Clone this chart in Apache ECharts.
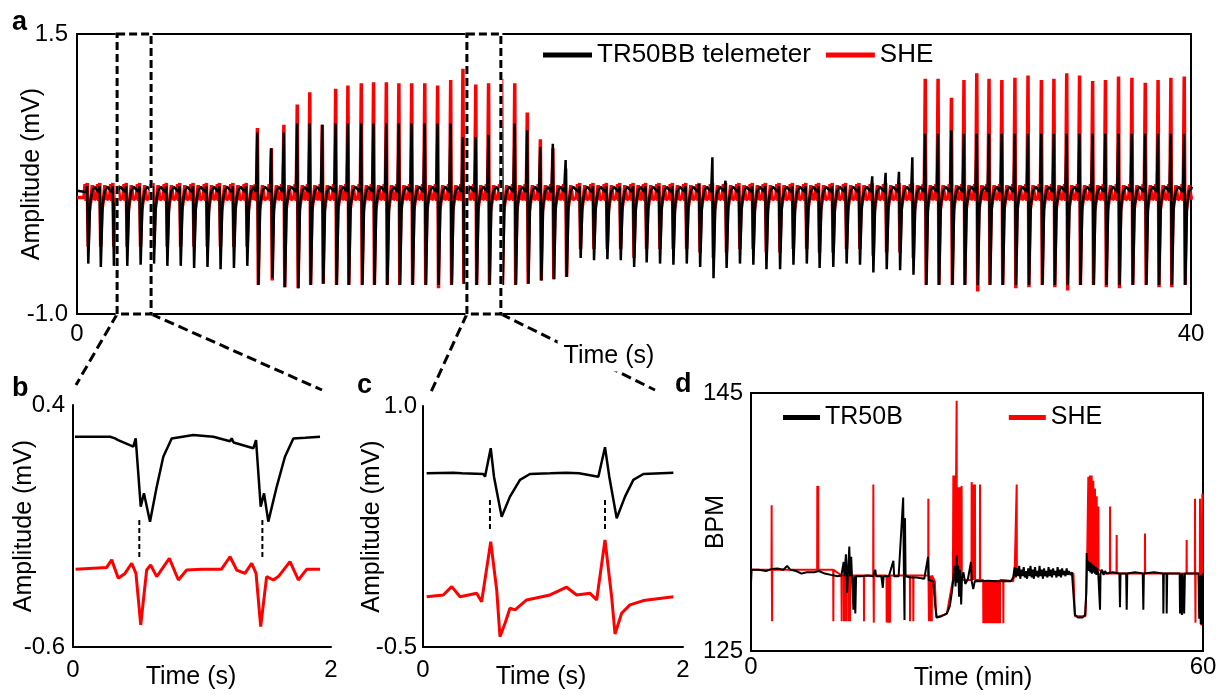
<!DOCTYPE html>
<html><head><meta charset="utf-8">
<script src="https://cdn.jsdelivr.net/npm/echarts/dist/echarts.min.js"></script>
<style>html,body{margin:0;padding:0;background:#fff}#c{width:1223px;height:695px}</style>
</head><body><div id="c"></div>
<script>
// ---------------- Panel a : beat-by-beat amplitudes ----------------
const beatTimes = [
 0.38,0.83,1.30,1.78,2.26,2.74,3.22,3.70,4.18,4.66,5.13,5.61,6.09,
 6.49,6.99,7.44,7.92,8.37,8.82,9.30,9.74,10.22,10.66,11.12,11.57,12.03,12.50,12.96,13.43,13.87,14.33,14.79,15.26,15.73,16.18,16.65,17.10,17.56,
 18.06,18.54,19.02,19.50,19.98,20.43,20.91,21.39,21.87,22.35,22.83,23.30,23.78,24.26,24.73,25.22,25.70,26.18,26.64,27.13,27.61,28.09,28.57,29.05,29.53,30.01,
 30.47,30.93,31.41,31.86,32.32,32.76,33.22,33.69,34.16,34.64,35.09,35.55,36.01,36.48,36.94,37.41,37.89,38.37,38.83,39.29,39.77];
const blackPeak = [
 0.14,0.14,0.14,0.14,0.14,0.14,0.14,0.14,0.14,0.14,0.14,0.14,0.14,
 0.62,0.48,0.62,0.70,0.70,0.69,0.70,0.70,0.70,0.70,0.70,0.70,0.70,0.70,0.70,0.70,0.58,0.58,0.60,0.67,0.70,0.64,0.49,0.52,0.375,
 0.14,0.14,0.14,0.14,0.14,0.14,0.14,0.14,0.14,0.16,0.40,0.19,0.14,0.14,0.14,0.14,0.14,0.14,0.14,0.14,0.14,0.14,0.23,0.26,0.27,0.40,
 0.61,0.61,0.64,0.61,0.61,0.61,0.61,0.61,0.61,0.61,0.61,0.61,0.61,0.61,0.61,0.61,0.61,0.61,0.61,0.61,0.61];
const blackTrough = [
 -0.55,-0.58,-0.57,-0.57,-0.56,-0.55,-0.57,-0.57,-0.59,-0.58,-0.60,-0.59,-0.57,
 -0.74,-0.68,-0.76,-0.77,-0.74,-0.73,-0.74,-0.74,-0.74,-0.74,-0.74,-0.74,-0.74,-0.74,-0.74,-0.74,-0.73,-0.74,-0.74,-0.74,-0.74,-0.73,-0.70,-0.69,-0.67,
 -0.50,-0.52,-0.51,-0.52,-0.58,-0.54,-0.55,-0.56,-0.55,-0.58,-0.68,-0.59,-0.55,-0.56,-0.60,-0.60,-0.56,-0.55,-0.59,-0.58,-0.55,-0.56,-0.63,-0.60,-0.61,-0.65,
 -0.74,-0.74,-0.74,-0.74,-0.74,-0.74,-0.74,-0.74,-0.74,-0.74,-0.74,-0.74,-0.74,-0.74,-0.74,-0.74,-0.74,-0.74,-0.74,-0.74,-0.74];
const redPeak = [
 0.17,0.17,0.17,0.17,0.17,0.17,0.17,0.17,0.17,0.17,0.17,0.17,0.17,
 0.66,0.48,0.69,0.87,0.98,0.69,1.01,1.04,1.06,1.07,1.07,1.06,1.06,1.06,1.04,1.09,1.19,1.05,1.06,1.10,1.06,0.80,0.56,0.48,0.30,
 0.17,0.17,0.17,0.17,0.17,0.17,0.17,0.17,0.17,0.17,0.17,0.17,0.17,0.17,0.17,0.17,0.17,0.17,0.17,0.17,0.17,0.17,0.17,0.17,0.17,0.17,
 1.10,1.10,0.93,1.09,1.15,1.10,1.09,1.11,1.13,1.09,1.10,1.15,1.13,1.08,1.09,1.12,1.11,1.065,1.09,1.11,1.12];
const redTrough = [
 -0.40,-0.40,-0.40,-0.40,-0.40,-0.40,-0.40,-0.40,-0.40,-0.40,-0.40,-0.40,-0.40,
 -0.74,-0.70,-0.76,-0.77,-0.74,-0.73,-0.74,-0.74,-0.74,-0.74,-0.74,-0.74,-0.74,-0.74,-0.77,-0.74,-0.73,-0.74,-0.74,-0.74,-0.74,-0.73,-0.70,-0.69,-0.67,
 -0.42,-0.42,-0.42,-0.42,-0.50,-0.42,-0.42,-0.42,-0.42,-0.45,-0.50,-0.45,-0.42,-0.42,-0.45,-0.45,-0.42,-0.42,-0.45,-0.45,-0.42,-0.42,-0.48,-0.45,-0.45,-0.50,
 -0.74,-0.74,-0.74,-0.74,-0.80,-0.74,-0.74,-0.77,-0.76,-0.74,-0.76,-0.79,-0.74,-0.74,-0.76,-0.77,-0.74,-0.74,-0.76,-0.76,-0.74];
// waveform levels between spikes (baseline, P/T bumps): [time offset (s), value or 'peak'/'trough']
const blackShape = [[-0.06,0.09],[-0.015,'peak'],[0.025,'trough'],[0.09,-0.02],[0.17,0.10],[0.26,0.135]];
const redShape = [[-0.13,0.04],[-0.09,0.16],[-0.05,0.01],[-0.012,'peak'],[0.02,'trough'],[0.06,-0.08],[0.11,0.0],[0.17,0.15],[0.24,0.02]];
const aEnds = {black:[[0,0.10],[40,0.11]], red:[[0,0.04],[40,0.05]]};
const zoomBoxes = [[1.44,2.66],[14.0,15.22]];
const aX = [0,40], aY = [-1.0,1.5];

// ---------------- Panel b / c : zoomed traces ----------------
const bBlack = [[0.015,0.269],[0.287,0.269],[0.326,0.262],[0.35,0.255],[0.468,0.228],[0.486,0.262],[0.525,-0.020],[0.550,0.035],[0.597,-0.082],[0.649,0.062],[0.700,0.186],[0.765,0.262],[0.933,0.276],[1.088,0.269],[1.217,0.250],[1.230,0.262],[1.245,0.245],[1.398,0.221],[1.419,0.255],[1.455,-0.020],[1.481,0.035],[1.514,-0.082],[1.579,0.062],[1.643,0.186],[1.708,0.262],[1.80,0.265],[1.915,0.269]];
const bRed = [[0.02,-0.279],[0.261,-0.271],[0.300,-0.240],[0.351,-0.316],[0.403,-0.296],[0.455,-0.254],[0.488,-0.296],[0.525,-0.509],[0.571,-0.282],[0.602,-0.261],[0.649,-0.309],[0.747,-0.234],[0.817,-0.323],[0.881,-0.282],[1.0,-0.279],[1.15,-0.279],[1.217,-0.227],[1.269,-0.282],[1.333,-0.296],[1.385,-0.254],[1.419,-0.296],[1.455,-0.516],[1.501,-0.309],[1.553,-0.323],[1.592,-0.309],[1.682,-0.247],[1.747,-0.323],[1.811,-0.279],[1.915,-0.279]];
const bMarks = [[0.514,-0.075,-0.240],[1.468,-0.075,-0.240]];
const cBlack = [[0.028,0.581],[0.233,0.585],[0.24,0.591],[0.3,0.581],[0.464,0.577],[0.477,0.560],[0.521,0.737],[0.546,0.560],[0.605,0.311],[0.669,0.436],[0.746,0.540],[0.823,0.577],[0.977,0.581],[1.105,0.585],[1.118,0.591],[1.2,0.581],[1.349,0.560],[1.4,0.743],[1.433,0.560],[1.490,0.301],[1.554,0.436],[1.618,0.540],[1.695,0.577],[1.926,0.585]];
const cRed = [[0.028,-0.187],[0.156,-0.176],[0.221,-0.124],[0.285,-0.187],[0.413,-0.166],[0.451,-0.218],[0.521,0.156],[0.567,-0.145],[0.592,-0.436],[0.631,-0.352],[0.669,-0.259],[0.708,-0.269],[0.797,-0.207],[0.977,-0.176],[1.105,-0.128],[1.182,-0.176],[1.285,-0.166],[1.336,-0.207],[1.4,0.166],[1.451,-0.187],[1.477,-0.419],[1.528,-0.290],[1.592,-0.238],[1.695,-0.211],[1.926,-0.187]];
const cMarks = [[0.515,0.415,0.218],[1.40,0.415,0.218]];

// ---------------- Panel d : BPM over an hour ----------------
const dBlack = [[0,130.3],[0.08,131.3],[1.0,131.3],[2.0,131.2],[2.7,131.35],[3.5,131.4],[4.3,131.3],[4.8,131.6],[5.2,131.3],[6.0,131.2],[6.7,131.0],[7.4,131.1],[8.4,131.1],[9.0,131.2],[9.8,131.0],[10.6,130.9],[11.5,130.8],[12.0,130.85],
 [12.3,131.9],[12.4,130.8],[12.6,132.5],[12.7,130.8],[12.75,129.5],[12.85,130.8],[13.05,133.1],[13.15,130.8],[13.3,132.3],[13.4,130.8],[13.6,128.2],[13.7,130.8],[13.85,127.9],[13.95,130.8],[14.6,130.8],[15.5,130.85],[16.2,130.8],[16.5,131.3],[16.6,130.8],[17.3,130.8],[17.5,129.9],[17.6,130.8],[18.3,130.8],[18.9,132.0],[19.0,130.8],[19.6,130.8],[20.2,136.9],[20.3,130.8],[20.38,127.4],[20.44,135.3],[20.52,130.8],[21.2,130.7],[22.0,130.7],[23.0,130.6],[23.5,132.3],[23.6,130.5],[24.2,130.4],[24.45,128.5],[24.65,127.6],[25.3,127.7],[26.0,127.9],[26.4,128.5],[26.7,129.7],[26.86,130.6],[27.0,131.6],[27.15,130.0],[27.3,132.4],[27.4,130.3],[27.5,131.6],[27.62,129.2],[27.75,131.3],[27.9,128.6],[28.0,130.6],[28.2,131.1],[28.45,130.2],[28.8,130.6],[29.2,131.9],[29.3,130.4],[29.5,129.8],[29.7,130.4],[30.5,130.4],[31.5,130.45],[32.5,130.4],[33.5,130.4],[34.5,130.4],[34.8,130.7],
 [35.0,131.5],[35.15,130.7],[35.3,131.4],[35.45,130.8],[35.6,131.6],[35.75,130.6],[35.9,131.3],[36.05,130.8],[36.2,131.5],[36.35,130.7],[36.5,131.2],[36.65,130.6],[36.8,131.4],[36.95,130.8],[37.1,131.6],[37.25,130.7],[37.4,131.3],[37.55,130.6],[37.7,131.5],[37.85,130.8],[38.0,131.2],[38.15,130.7],[38.3,131.6],[38.45,130.8],[38.6,131.3],[38.75,130.6],[38.9,131.4],[39.05,130.8],[39.2,131.2],[39.35,130.7],[39.5,131.5],[39.65,130.8],[39.8,131.3],[39.95,130.7],[40.1,131.4],[40.25,130.9],[40.4,131.2],[40.55,130.7],[40.7,131.5],[40.85,130.8],[41.0,131.3],[41.15,130.7],[41.3,131.4],[41.45,130.9],[41.6,131.2],[41.75,130.8],[41.9,131.4],[42.05,130.9],[42.2,131.2],[42.4,130.9],[42.6,131.1],[42.8,131.0],
 [43.0,127.8],[43.4,127.6],[44.0,127.6],[44.35,127.8],[44.5,129.5],[44.56,132.6],[44.65,131.3],[44.75,132.0],[44.85,131.2],[44.95,131.9],[45.05,131.1],[45.15,131.8],[45.25,131.0],[45.35,131.7],[45.45,131.1],[45.55,131.6],[45.65,131.0],[45.75,131.5],[45.85,130.9],[45.95,131.4],[46.1,131.0],[46.33,128.2],[46.4,131.0],[46.6,131.3],[46.8,130.9],[47.0,131.2],[47.2,131.0],
 [48.0,131.1],[48.9,131.0],[48.98,128.4],[49.05,131.0],[49.8,131.0],[49.87,128.2],[49.95,131.0],[51.0,131.1],[52.0,131.0],[52.08,128.2],[52.15,131.0],[53.5,131.1],[54.7,131.0],[54.74,127.9],[54.8,131.0],[55.15,131.0],[55.18,127.9],[55.25,131.0],[56.9,131.0],[56.95,127.9],[57.05,131.0],[57.2,127.8],[57.3,131.0],[57.5,127.9],[57.6,131.0],[58.5,131.0],[59.4,131.0],[59.5,127.5],[59.6,130.8],[59.7,127.1],[59.8,130.9],[59.9,127.0],[60,131.0]];
const dRedBase = [[0,131.3],[12,130.85],[24.4,130.4],[24.6,127.6],[26.0,127.9],[26.8,130.5],[34.8,130.4],[35,131.0],[42.8,131.0],[43.0,127.7],[44.4,127.7],[44.6,131.3],[47,131.0],[60,131.0]];
const dRedSpikes = [[2.74,136.3],[2.80,127.3],[8.80,137.8],[8.92,137.8],[10.93,127.3],[12.04,127.3],[12.35,127.3],[12.61,127.3],[12.92,127.3],[13.14,127.3],[15.00,127.3],[16.24,137.9],[16.30,127.2],[18.01,127.2],[18.23,127.2],[18.45,127.2],[21.11,127.3],[21.55,127.3],[23.54,136.8],[23.62,127.3],[23.80,127.3],[24.00,127.3],
 [26.86,138.6],[27.10,138.6],[27.30,144.4],[27.52,137.7],[27.74,137.7],[27.96,137.8],[29.29,138.1],[29.51,137.9],[29.73,137.9],[30.40,137.9],
 [30.84,127.15],[31.02,127.15],[31.28,127.15],[31.50,127.15],[31.73,127.15],[31.95,127.15],[32.17,127.15],[32.40,127.15],[32.61,127.15],[32.85,127.15],[33.05,127.15],[33.50,127.15],[35.27,137.9],
 [44.78,138.5],[45.00,138.6],[45.22,138.6],[45.44,138.2],[45.66,137.6],[45.89,137.0],[46.11,136.2],[47.66,136.2],[48.54,134.0],[52.30,134.1],[57.83,133.6],[58.94,136.8],[59.00,127.2],[59.60,136.8],[59.75,127.0],[59.92,137.2]];

// ---------------- build series data ----------------
function beatsToLine(shape, peaks, troughs, ends) {
  const out = [ends[0]];
  beatTimes.forEach((t, i) => {
    shape.forEach(([dt, v]) => {
      const val = v === 'peak' ? peaks[i] : (v === 'trough' ? troughs[i] : v);
      out.push([+(t + dt).toFixed(3), val]);
    });
  });
  out.push(ends[1]);
  return out;
}
const aBlackLine = beatsToLine(blackShape, blackPeak, blackTrough, aEnds.black);
const aRedLine = beatsToLine(redShape, redPeak, redTrough, aEnds.red);

function redWithSpikes() {
  const ev = dRedBase.map(p => ({t: p[0], v: p[1], base: true}))
    .concat(dRedSpikes.map(p => ({t: p[0], v: p[1], base: false})))
    .sort((a, b) => a.t - b.t);
  const out = []; let cur = dRedBase[0][1];
  ev.forEach(e => {
    if (e.base) { cur = e.v; out.push([e.t, e.v]); }
    else { out.push([e.t - 0.02, cur], [e.t, e.v], [e.t + 0.02, cur]); }
  });
  return out;
}
const dRedLine = redWithSpikes();

// ---------------- chart ----------------
const FONT = '"Liberation Sans", Arial, sans-serif';
const RED = '#ff0000', BLK = '#000000';
const endsOnly = (lo, hi, dec) => v => (Math.abs(v - lo) < 1e-6 || Math.abs(v - hi) < 1e-6) ? v.toFixed(dec) : '';
const lab = (m, extra) => Object.assign({fontSize: 24, color: '#000', fontFamily: FONT, margin: m}, extra || {});
const axLine = {show: true, onZero: false, lineStyle: {color: '#000', width: 2}};
const nameStyle = (pad) => ({fontSize: 25, color: '#000', fontFamily: FONT, padding: pad || 0});

function xAx(g, min, max, interval, m, name, gap, pad) {
  return {gridIndex: g, type: 'value', min, max, interval, axisLine: axLine, axisTick: {show: false}, splitLine: {show: false},
    axisLabel: lab(m), name: name || '', nameLocation: 'middle', nameGap: gap || 0, nameMoveOverlap: false, nameTextStyle: nameStyle(pad)};
}
function yAx(g, min, max, interval, dec, m, name, gap) {
  return {gridIndex: g, type: 'value', min, max, interval, axisLine: axLine, axisTick: {show: false}, splitLine: {show: false},
    axisLabel: lab(m, {formatter: endsOnly(min, max, dec)}), name, nameLocation: 'middle', nameGap: gap, nameRotate: 90, nameMoveOverlap: false, nameTextStyle: nameStyle()};
}
const ln = (name, data, xi, color, w, z) => ({name, type: 'line', xAxisIndex: xi, yAxisIndex: xi, data, showSymbol: false, symbol: 'none',
  lineStyle: {color, width: w}, itemStyle: {color}, silent: true, z: z || 2, animation: false});

const series = [
  ln('SHE', aRedLine, 0, RED, 3.5, 2), ln('TR50BB telemeter', aBlackLine, 0, BLK, 2.5, 3),
  ln('b-red', bRed, 1, RED, 3), ln('b-black', bBlack, 1, BLK, 2.5),
  ln('c-red', cRed, 2, RED, 3), ln('c-black', cBlack, 2, BLK, 2.5),
  ln('SHE', dRedLine, 3, RED, 2, 2), ln('TR50B', dBlack, 3, BLK, 2, 3)
];
bMarks.forEach(m => series.push(Object.assign(ln('', [[m[0], m[1]], [m[0], m[2]]], 1, BLK, 2), {lineStyle: {color: BLK, width: 2, type: [5, 3]}})));
cMarks.forEach(m => series.push(Object.assign(ln('', [[m[0], m[1]], [m[0], m[2]]], 2, BLK, 2), {lineStyle: {color: BLK, width: 2, type: [5, 3]}})));

const gridBase = {outerBoundsMode: 'none', containLabel: false};
const chart = echarts.init(document.getElementById('c'), null, {renderer: 'canvas'});
chart.setOption({
  animation: false,
  backgroundColor: '#fff',
  textStyle: {fontFamily: FONT},
  grid: [
    Object.assign({left: 77, top: 34, width: 1114, height: 280, show: true, borderColor: '#000', borderWidth: 2, backgroundColor: 'transparent'}, gridBase),
    Object.assign({left: 73, top: 405, width: 258, height: 242}, gridBase),
    Object.assign({left: 423, top: 406, width: 260, height: 241}, gridBase),
    Object.assign({left: 751, top: 393, width: 452, height: 258, show: true, borderColor: '#000', borderWidth: 2, backgroundColor: 'transparent'}, gridBase)
  ],
  xAxis: [
    xAx(0, aX[0], aX[1], 40, 8),
    xAx(1, 0, 2, 2, 11, 'Time (s)', 18, [0, 22, 0, 0]),
    xAx(2, 0, 2, 2, 11, 'Time (s)', 18, [0, 24, 0, 0]),
    xAx(3, 0, 60, 60, 4, 'Time (min)', 15, [0, 8, 0, 0])
  ],
  yAxis: [
    yAx(0, aY[0], aY[1], 0.5, 1, 9, 'Amplitude (mV)', 32),
    yAx(1, -0.6, 0.4, 0.2, 1, 8, 'Amplitude (mV)', 36),
    yAx(2, -0.5, 1.0, 0.5, 1, 6, 'Amplitude (mV)', 38),
    yAx(3, 125, 145, 5, 0, 8, 'BPM', 22)
  ],
  legend: [
    {data: ['TR50BB telemeter', 'SHE'], left: 543, top: 42, padding: 0, icon: 'rect', itemWidth: 49, itemHeight: 5, itemGap: 15,
     textStyle: {fontSize: 26, color: '#000', fontFamily: FONT}, selectedMode: false},
    {data: ['TR50B', 'SHE'], left: 783, top: 405, padding: 0, icon: 'rect', itemWidth: 37, itemHeight: 5, itemGap: 106,
     textStyle: {fontSize: 25, color: '#000', fontFamily: FONT}, selectedMode: false}
  ],
  series
});

// ---------------- annotations: zoom boxes, connectors, labels ----------------
const P = (g, xy) => chart.convertToPixel({gridIndex: g}, xy);
const gfx = [];
const insetTargets = [
  {g: 1, tl: [0, 0.4], tr: [2, 0.4], dl: [3, -20], dr: [-9, -15]},
  {g: 2, tl: [0, 1.0], tr: [2, 1.0], dl: [8, -14], dr: [-28, -16]}
];
zoomBoxes.forEach((bx, i) => {
  const p0 = P(0, [bx[0], aY[1]]), p1 = P(0, [bx[1], aY[0]]);
  const shape = {x: p0[0], y: p0[1], width: p1[0] - p0[0], height: p1[1] - p0[1]};
  gfx.push({type: 'rect', shape, style: {fill: 'transparent', stroke: '#fff', lineWidth: 3}, z: 50, silent: true});
  gfx.push({type: 'rect', shape, style: {fill: 'transparent', stroke: '#000', lineWidth: 3, lineDash: [8, 4]}, z: 51, silent: true});
  const it = insetTargets[i];
  const a = P(it.g, it.tl), b = P(it.g, it.tr);
  gfx.push({type: 'line', shape: {x1: p0[0], y1: p1[1], x2: a[0] + it.dl[0], y2: a[1] + it.dl[1]}, style: {stroke: '#000', lineWidth: 3, lineDash: [10, 5]}, z: 40, silent: true});
  gfx.push({type: 'line', shape: {x1: p1[0], y1: p1[1], x2: b[0] + it.dr[0], y2: b[1] + it.dr[1]}, style: {stroke: '#000', lineWidth: 3, lineDash: [10, 5]}, z: 40, silent: true});
});
const tA = P(0, [19.1, aY[0]]);
gfx.push({type: 'text', x: tA[0], y: tA[1] + 42, z: 60, silent: true,
  style: {text: 'Time (s)', fontSize: 25, fontFamily: FONT, fill: '#000', align: 'center', verticalAlign: 'middle', backgroundColor: '#fff', padding: [3, 6]}});
[['a', 12, 9], ['b', 12, 375], ['c', 357, 372], ['d', 675, 371]].forEach(([t, x, y]) =>
  gfx.push({type: 'text', x, y, z: 60, silent: true, style: {text: t, fontSize: 27, fontWeight: 'bold', fontFamily: FONT, fill: '#000'}}));
chart.setOption({graphic: gfx});
</script></body></html>
